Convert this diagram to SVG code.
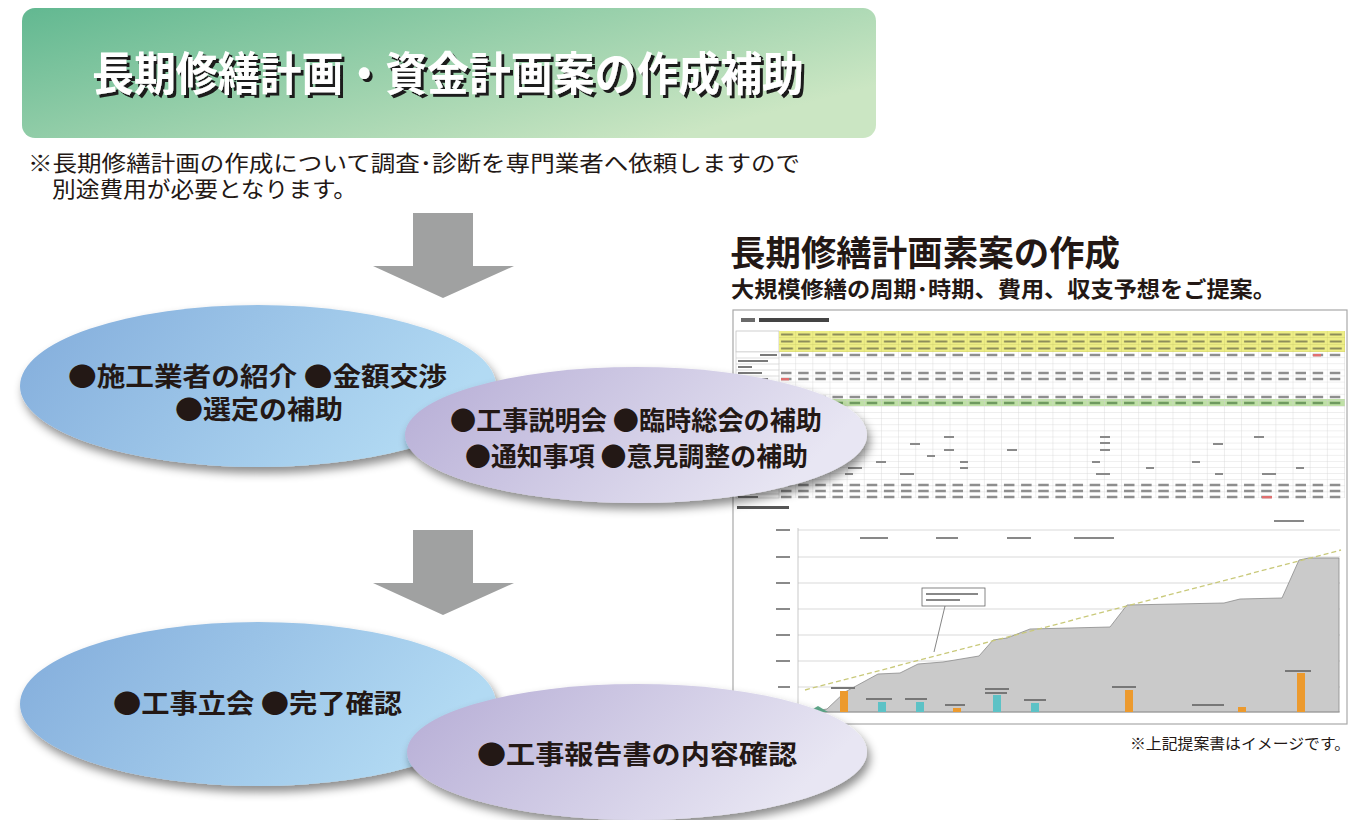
<svg xmlns="http://www.w3.org/2000/svg" width="1351" height="820" viewBox="0 0 1351 820">
<style>
.jp{font-family:"Noto Sans CJK JP","Noto Sans CJK SC",sans-serif}
.b{font-weight:700}
.dark{fill:#231815}
.ell{font-size:26px;font-weight:700;fill:#231815}
.grid{stroke:#cfcfcf;stroke-width:0.8}
.num{stroke:#8e8e8e;stroke-width:2.6;stroke-dasharray:10.5 6.65}
.ink{fill:#6a6a6a}
</style>
<defs>
<linearGradient id="gHead" x1="0" y1="0" x2="1" y2="0.6">
<stop offset="0" stop-color="#62b891"/>
<stop offset="1" stop-color="#cbe6c3"/>
</linearGradient>
<linearGradient id="gBlue" x1="0" y1="0" x2="1" y2="0.3">
<stop offset="0" stop-color="#82acdb"/>
<stop offset="1" stop-color="#b2daf3"/>
</linearGradient>
<linearGradient id="gPurple" x1="0" y1="0" x2="1" y2="0.3">
<stop offset="0" stop-color="#b5acd5"/>
<stop offset="1" stop-color="#e8e6f3"/>
</linearGradient>
<filter id="shadow" x="-10%" y="-15%" width="125%" height="140%">
<feDropShadow dx="3" dy="6" stdDeviation="5" flood-color="#000" flood-opacity="0.45"/>
</filter>
<filter id="tshadow" x="-5%" y="-20%" width="110%" height="150%">
<feDropShadow dx="3" dy="3" stdDeviation="0.4" flood-color="#1a1a1a" flood-opacity="1"/>
</filter>
<pattern id="cells" x="779" y="352" width="17.15" height="6.1" patternUnits="userSpaceOnUse">
<path d="M17.15,0 V6.1 M0,6.1 H17.15" stroke="#cfcfcf" stroke-width="0.7" fill="none"/>
</pattern>
<pattern id="hcells" x="779" y="331" width="17.15" height="7" patternUnits="userSpaceOnUse">
<path d="M17.15,0 V7 M0,7 H17.15" stroke="#c9c96a" stroke-width="0.7" fill="none"/>
<rect x="2" y="2.5" width="12" height="2" fill="#8d8d5a"/>
</pattern>
</defs>
<rect width="1351" height="820" fill="#ffffff"/>

<g id="header">
<rect x="22" y="8" width="854" height="130" rx="13" fill="url(#gHead)"/>
<text class="jp b" x="92" y="90" font-size="46" fill="#ffffff" filter="url(#tshadow)" textLength="712" lengthAdjust="spacingAndGlyphs">長期修繕計画・資金計画案の作成補助</text>
</g>

<g id="note">
<text class="jp dark" x="28" y="171" font-size="22" textLength="772" lengthAdjust="spacingAndGlyphs">※長期修繕計画の作成について調査･診断を専門業者へ依頼しますので</text>
<text class="jp dark" x="52" y="197" font-size="22" textLength="305" lengthAdjust="spacingAndGlyphs">別途費用が必要となります。</text>
</g>

<g id="connectors">
<path d="M413,213 H473 V266 H514 L443,298 L373,266 H413 Z" fill="#a0a1a1"/>
<path d="M413,530 H473 V583 H514 L443,615 L373,583 H413 Z" fill="#a0a1a1"/>
</g>

<g id="proposal">
<text class="jp b dark" x="730" y="266" font-size="35" textLength="390" lengthAdjust="spacingAndGlyphs">長期修繕計画素案の作成</text>
<text class="jp b dark" x="731" y="297" font-size="22" textLength="545" lengthAdjust="spacingAndGlyphs">大規模修繕の周期･時期、費用、収支予想をご提案。</text>
</g>

<g id="sheet">
<rect x="733" y="310" width="614" height="414" fill="#ffffff" stroke="#a8a8a8" stroke-width="1.2"/>
<rect x="741" y="318" width="14" height="4" class="ink"/>
<rect x="759" y="318" width="70" height="4" fill="#444"/>
<rect x="736" y="331" width="43" height="21" fill="#fff" stroke="#bbb" stroke-width="0.7"/>
<rect x="779" y="331" width="566" height="21" fill="#eeee86"/>
<rect x="779" y="331" width="566" height="21" fill="url(#hcells)"/>
<rect x="736" y="352" width="43" height="146" fill="#fff" stroke="#cfcfcf" stroke-width="0.7"/>
<rect x="779" y="399" width="566" height="7" fill="#bfe0a6"/>
<rect x="779" y="352" width="566" height="146" fill="url(#cells)"/>
<g stroke="#cfcfcf" stroke-width="0.7">
<line x1="736" y1="358" x2="779" y2="358"/><line x1="736" y1="364" x2="779" y2="364"/>
<line x1="736" y1="370" x2="779" y2="370"/><line x1="736" y1="376" x2="779" y2="376"/>
<line x1="736" y1="482" x2="779" y2="482"/><line x1="736" y1="488" x2="779" y2="488"/>
<line x1="736" y1="494" x2="779" y2="494"/>
</g>
<g fill="#7a7a7a">
<rect x="760" y="354" width="17" height="2"/>
<rect x="738" y="360" width="30" height="2"/>
<rect x="738" y="366" width="14" height="2"/>
<rect x="738" y="372" width="24" height="2"/>
<rect x="738" y="378" width="30" height="2"/>
<rect x="738" y="496" width="20" height="2"/>
</g>
<line x1="781" y1="355" x2="1345" y2="355" class="num"/>
<line x1="781" y1="373" x2="1345" y2="373" class="num"/>
<line x1="781" y1="379" x2="1345" y2="379" class="num"/>
<line x1="781" y1="397" x2="1345" y2="397" class="num"/>
<line x1="781" y1="403" x2="1345" y2="403" class="num" style="stroke:#6f9a60"/>
<line x1="781" y1="485" x2="1345" y2="485" class="num"/>
<line x1="781" y1="491" x2="1345" y2="491" class="num"/>
<line x1="781" y1="497" x2="1345" y2="497" class="num"/>
<rect x="781" y="378" width="8" height="2.4" fill="#e07070"/>
<rect x="1313" y="354" width="8" height="2.4" fill="#e07070"/>
<rect x="1262" y="496" width="10" height="2.4" fill="#e07070"/>
<g fill="#8a8a8a">
<rect x="944" y="436" width="10" height="2"/><rect x="1100" y="436" width="10" height="2"/><rect x="1254" y="436" width="10" height="2"/>
<rect x="910" y="443" width="10" height="2"/><rect x="1100" y="442" width="10" height="2"/><rect x="1213" y="443" width="10" height="2"/>
<rect x="944" y="449" width="10" height="2"/><rect x="1007" y="449" width="10" height="2"/><rect x="1100" y="449" width="10" height="2"/>
<rect x="927" y="455" width="8" height="2"/>
<rect x="876" y="461" width="10" height="2"/><rect x="960" y="461" width="8" height="2"/><rect x="1092" y="461" width="8" height="2"/><rect x="1192" y="461" width="8" height="2"/>
<rect x="848" y="467" width="14" height="2"/><rect x="960" y="467" width="8" height="2"/><rect x="1146" y="467" width="8" height="2"/><rect x="1296" y="467" width="8" height="2"/>
<rect x="790" y="473" width="16" height="2"/><rect x="845" y="473" width="8" height="2"/><rect x="900" y="473" width="14" height="2"/><rect x="1096" y="473" width="14" height="2"/><rect x="1215" y="473" width="8" height="2"/><rect x="1262" y="473" width="14" height="2"/>
</g>

<rect x="737" y="506" width="52" height="3" fill="#555"/>
<rect x="1274" y="520" width="30" height="2" fill="#888"/>
<g class="grid">
<line x1="798" y1="530" x2="1340" y2="530"/><line x1="798" y1="557" x2="1340" y2="557"/>
<line x1="798" y1="583" x2="1340" y2="583"/><line x1="798" y1="609" x2="1340" y2="609"/>
<line x1="798" y1="635" x2="1340" y2="635"/><line x1="798" y1="661" x2="1340" y2="661"/>
<line x1="798" y1="687" x2="1340" y2="687"/>
</g>
<g fill="#8a8a8a">
<rect x="776" y="529" width="14" height="2"/><rect x="776" y="556" width="14" height="2"/>
<rect x="776" y="582" width="14" height="2"/><rect x="776" y="608" width="14" height="2"/>
<rect x="776" y="634" width="14" height="2"/><rect x="776" y="660" width="14" height="2"/>
<rect x="778" y="686" width="12" height="2"/>
</g>
<g fill="#888">
<rect x="860" y="537" width="28" height="2"/><rect x="936" y="537" width="22" height="2"/>
<rect x="1007" y="537" width="24" height="2"/><rect x="1074" y="537" width="40" height="2"/>
</g>
<polygon points="800,712 815,711 827,709 845,692 878,674 900,673 918,664 943,662 979,656 993,640 1007,638 1030,629 1110,627 1127,605 1224,603 1240,599 1282,598 1299,560 1309,558 1339,558 1339,712" fill="#cacaca" stroke="#8c8c8c" stroke-width="0.8"/>
<line x1="805" y1="690" x2="1341" y2="550" stroke="#c9c97a" stroke-width="1.3" stroke-dasharray="5 3"/>
<line x1="798" y1="528" x2="798" y2="712" stroke="#bbb" stroke-width="0.8"/>
<line x1="798" y1="712" x2="1340" y2="712" stroke="#999" stroke-width="0.8"/>
<polygon points="808,712 818,706 828,712" fill="#5fa88a"/>
<g fill="#ec9a2e">
<rect x="840" y="691" width="8" height="21"/>
<rect x="953" y="708" width="8" height="4"/>
<rect x="1125" y="690" width="8" height="22"/>
<rect x="1238" y="707" width="8" height="5"/>
<rect x="1297" y="673" width="8" height="39"/>
</g>
<g fill="#5dc2c6">
<rect x="878" y="702" width="8" height="10"/>
<rect x="916" y="702" width="8" height="10"/>
<rect x="993" y="695" width="8" height="17"/>
<rect x="1031" y="703" width="8" height="9"/>
</g>
<g fill="#777">
<rect x="831" y="687" width="24" height="2"/><rect x="866" y="698" width="26" height="2"/>
<rect x="905" y="698" width="22" height="2"/><rect x="945" y="704" width="20" height="2"/>
<rect x="985" y="688" width="24" height="2"/><rect x="985" y="692" width="22" height="2"/>
<rect x="1024" y="699" width="22" height="2"/><rect x="1112" y="686" width="24" height="2"/>
<rect x="1192" y="704" width="32" height="2"/><rect x="1285" y="670" width="26" height="2"/>
</g>
<rect x="922" y="588" width="63" height="18" fill="#fff" stroke="#666" stroke-width="0.8"/>
<rect x="926" y="593" width="52" height="2" fill="#888"/>
<rect x="926" y="599" width="34" height="2" fill="#888"/>
<line x1="945" y1="606" x2="934" y2="652" stroke="#666" stroke-width="0.8"/>
</g>

<g id="node-select" filter="url(#shadow)">
<ellipse cx="258" cy="386" rx="238" ry="81" fill="url(#gBlue)"/>
</g>
<g id="node-select-text">
<text class="jp ell" x="68" y="386" textLength="379" lengthAdjust="spacingAndGlyphs">●施工業者の紹介 ●金額交渉</text>
<text class="jp ell" x="175" y="419" textLength="168" lengthAdjust="spacingAndGlyphs">●選定の補助</text>
</g>

<g id="node-meeting" filter="url(#shadow)">
<ellipse cx="636" cy="435" rx="231" ry="68" fill="url(#gPurple)"/>
</g>
<g id="node-meeting-text">
<text class="jp ell" x="450" y="430" textLength="372" lengthAdjust="spacingAndGlyphs">●工事説明会 ●臨時総会の補助</text>
<text class="jp ell" x="465" y="466" textLength="343" lengthAdjust="spacingAndGlyphs">●通知事項 ●意見調整の補助</text>
</g>

<g id="node-inspect" filter="url(#shadow)">
<ellipse cx="258" cy="704" rx="238" ry="82" fill="url(#gBlue)"/>
</g>
<g id="node-inspect-text">
<text class="jp ell" x="113" y="713" textLength="289" lengthAdjust="spacingAndGlyphs">●工事立会 ●完了確認</text>
</g>

<g id="node-report" filter="url(#shadow)">
<ellipse cx="637" cy="752" rx="230" ry="68" fill="url(#gPurple)"/>
</g>
<g id="node-report-text">
<text class="jp ell" x="477" y="764" textLength="320" lengthAdjust="spacingAndGlyphs">●工事報告書の内容確認</text>
</g>

<g id="footnote">
<text class="jp dark" x="1130" y="749" font-size="15" textLength="220" lengthAdjust="spacingAndGlyphs">※上記提案書はイメージです。</text>
</g>
</svg>
